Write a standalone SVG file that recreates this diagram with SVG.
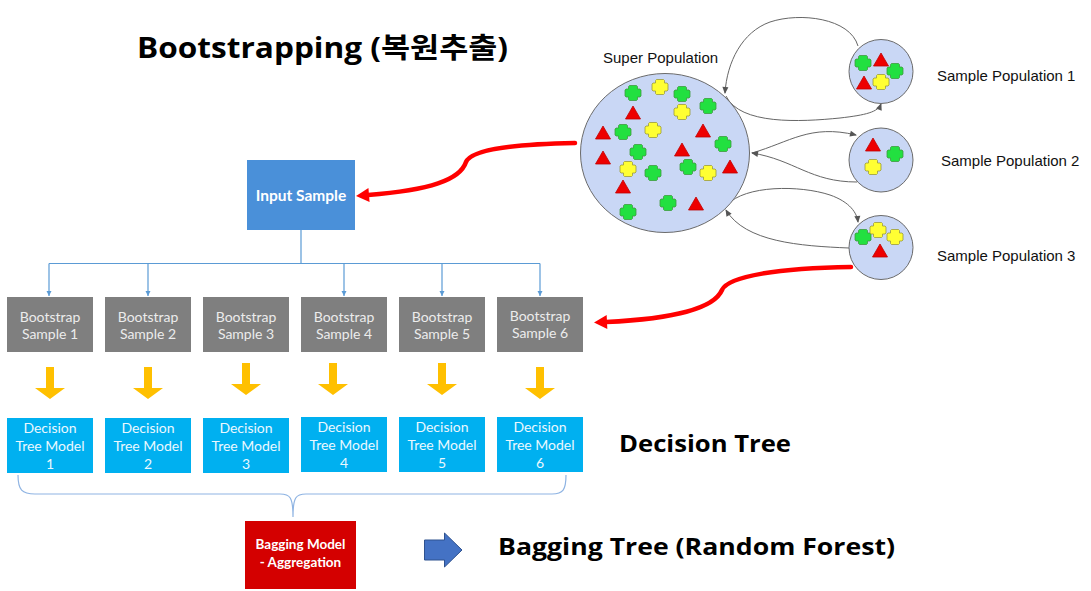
<svg xmlns="http://www.w3.org/2000/svg" width="1091" height="591" viewBox="0 0 1091 591">
<style>
.title{font-family:"Open Sans","Noto Sans CJK KR",sans-serif;font-weight:bold;fill:#000}
.pop{font-family:"Liberation Sans",Arial,sans-serif;font-size:15px;fill:#111}
.bs rect{fill:#7f7f7f}
.bs text{font-family:Lato,"Open Sans",sans-serif;font-size:14px;fill:#ececec;text-anchor:middle}
.dt rect{fill:#00b0f0}
.dt text{font-family:Lato,"Open Sans",sans-serif;font-size:14px;fill:#eaf8ff;text-anchor:middle}
.circ{fill:#c9d7f5;stroke:#6b6b6b;stroke-width:1}
.gray{fill:none;stroke:#666;stroke-width:1}
.red{fill:none;stroke:#f00;stroke-width:4.5;stroke-linecap:round}
.blue{fill:none;stroke:#5b9bd5;stroke-width:1.2}
.brace{fill:none;stroke:#8fb4e3;stroke-width:1.2}
.yarrow{fill:#ffc000}
</style>
<defs>
<path id="gc" d="M-3.5,-7.5 h7 l1,1 v2.5 h2.5 l1,1 v6 l-1,1 h-2.5 v2.5 l-1,1 h-7 l-1,-1 v-2.5 h-2.5 l-1,-1 v-6 l1,-1 h2.5 v-2.5 z" fill="#22e040" stroke="#3f9a3f" stroke-width="0.8"/>
<path id="yc" d="M-3.5,-7.5 h7 l1,1 v2.5 h2.5 l1,1 v6 l-1,1 h-2.5 v2.5 l-1,1 h-7 l-1,-1 v-2.5 h-2.5 l-1,-1 v-6 l1,-1 h2.5 v-2.5 z" fill="#ffff33" stroke="#9a9a3a" stroke-width="0.8"/>
<path id="rt" d="M0,-7 L7.5,6 L-7.5,6 z" fill="#ee0000" stroke="#c00000" stroke-width="0.8"/>
<marker id="ra" markerUnits="userSpaceOnUse" markerWidth="20" markerHeight="20" refX="0" refY="0" orient="auto" overflow="visible"><path d="M-1,-7 L12,0 L-1,7 z" fill="#f00"/></marker>
<marker id="ga" markerUnits="userSpaceOnUse" markerWidth="10" markerHeight="10" refX="6" refY="0" orient="auto" overflow="visible"><path d="M0,-3 L7,0 L0,3 z" fill="#555"/></marker>
<marker id="ba" markerUnits="userSpaceOnUse" markerWidth="10" markerHeight="10" refX="5" refY="0" orient="auto" overflow="visible"><path d="M0,-2.5 L5,0 L0,2.5 z" fill="#5b9bd5"/></marker>
</defs>
<rect width="1091" height="591" fill="#fff"/>

<text class="title" x="137" y="58" font-size="28" textLength="371" lengthAdjust="spacingAndGlyphs">Bootstrapping (복원추출)</text>
<text class="title" x="619" y="452" font-size="23" textLength="172" lengthAdjust="spacingAndGlyphs">Decision Tree</text>
<text class="title" x="498" y="555" font-size="23" textLength="397" lengthAdjust="spacingAndGlyphs">Bagging Tree (Random Forest)</text>

<g id="connectors">
<path class="blue" d="M301,230 V263.5 M49,263.5 H540"/>
<path class="blue" d="M49,263.5 V296" marker-end="url(#ba)"/>
<path class="blue" d="M148,263.5 V296" marker-end="url(#ba)"/>
<path class="blue" d="M344,263.5 V296" marker-end="url(#ba)"/>
<path class="blue" d="M442,263.5 V296" marker-end="url(#ba)"/>
<path class="blue" d="M540,263.5 V296" marker-end="url(#ba)"/>
<path class="brace" d="M18,475 C18,490 22,494 35,494 L280,494 C290,494 293,497 293,517 C293,497 296,494 306,494 L552,494 C563,494 566,490 566,475"/>
<path class="red" d="M575,143 C522,144 472,148 466,162 C460,180 430,190 368,195" marker-end="url(#ra)"/>
<path class="red" d="M851,267 C780,268 728,276 722,290 C716,304 690,318 606,322" marker-end="url(#ra)"/>
<path class="gray" d="M858,46 C850,18 800,12 770,22 C742,32 727,62 725,93" marker-end="url(#ga)"/>
<path class="gray" d="M726,96 C740,125 800,122 840,118 C866,115 878,112 881,104" marker-end="url(#ga)"/>
<path class="gray" d="M752,153 C790,142 810,124 856,135" marker-end="url(#ga)"/>
<path class="gray" d="M857,182 C810,182 795,160 752,153" marker-end="url(#ga)"/>
<path class="gray" d="M727,205 C745,185 800,185 830,195 C850,202 857,213 858,222" marker-end="url(#ga)"/>
<path class="gray" d="M849,248 C800,246 745,242 726,210" marker-end="url(#ga)"/>
</g>

<g id="super-population">
<ellipse class="circ" cx="665" cy="153" rx="84.5" ry="79.5"/>
<use href="#gc" x="633" y="93"/><use href="#gc" x="682" y="94"/><use href="#gc" x="708" y="106"/>
<use href="#gc" x="623" y="132"/><use href="#gc" x="723" y="144"/><use href="#gc" x="638" y="152"/>
<use href="#gc" x="688" y="167"/><use href="#gc" x="653" y="173"/><use href="#gc" x="668" y="203"/>
<use href="#gc" x="628" y="212"/>
<use href="#yc" x="660" y="87"/><use href="#yc" x="682" y="112"/><use href="#yc" x="653" y="130"/>
<use href="#yc" x="628" y="169"/><use href="#yc" x="708" y="173"/>
<use href="#rt" x="633" y="113"/><use href="#rt" x="603" y="133"/><use href="#rt" x="703" y="131"/>
<use href="#rt" x="682" y="150"/><use href="#rt" x="603" y="158"/><use href="#rt" x="730" y="167"/>
<use href="#rt" x="623" y="187"/><use href="#rt" x="696" y="204"/>
<text class="pop" x="603" y="63">Super Population</text>
</g>

<g id="sample-population-1">
<circle class="circ" cx="881" cy="71.5" r="32"/>
<use href="#gc" x="863" y="63"/><use href="#rt" x="881" y="60"/><use href="#gc" x="895" y="71"/>
<use href="#rt" x="864" y="83"/><use href="#yc" x="881" y="82"/>
<text class="pop" x="937" y="81">Sample Population 1</text>
</g>
<g id="sample-population-2">
<circle class="circ" cx="881" cy="160" r="32"/>
<use href="#rt" x="873" y="145"/><use href="#gc" x="895" y="154"/><use href="#yc" x="873" y="167"/>
<text class="pop" x="941" y="166">Sample Population 2</text>
</g>
<g id="sample-population-3">
<circle class="circ" cx="881" cy="247.5" r="32"/>
<use href="#gc" x="863" y="237"/><use href="#yc" x="878" y="230"/><use href="#yc" x="895" y="237"/>
<use href="#rt" x="880" y="251"/>
<text class="pop" x="937" y="261">Sample Population 3</text>
</g>

<g id="input-sample">
<rect x="247" y="160" width="108" height="70" fill="#4a90d9"/>
<text x="301" y="201" font-family="Lato,'Open Sans',sans-serif" font-weight="bold" font-size="15.5" fill="#fff" text-anchor="middle">Input Sample</text>
</g>

<g id="bootstrap-1" class="bs"><rect x="7" y="297" width="86" height="55"/><text x="50" y="322">Bootstrap</text><text x="50" y="339">Sample 1</text></g>
<g id="bootstrap-2" class="bs"><rect x="105" y="297" width="86" height="55"/><text x="148" y="322">Bootstrap</text><text x="148" y="339">Sample 2</text></g>
<g id="bootstrap-3" class="bs"><rect x="203" y="297" width="86" height="55"/><text x="246" y="322">Bootstrap</text><text x="246" y="339">Sample 3</text></g>
<g id="bootstrap-4" class="bs"><rect x="301" y="297" width="86" height="55"/><text x="344" y="322">Bootstrap</text><text x="344" y="339">Sample 4</text></g>
<g id="bootstrap-5" class="bs"><rect x="399" y="297" width="86" height="55"/><text x="442" y="322">Bootstrap</text><text x="442" y="339">Sample 5</text></g>
<g id="bootstrap-6" class="bs"><rect x="497" y="297" width="86" height="55"/><text x="540" y="321">Bootstrap</text><text x="540" y="338">Sample 6</text></g>

<g id="yellow-arrows" class="yarrow">
<path d="M46,367 h8 v21 h11 l-15,11 l-15,-11 h11 z"/>
<path d="M144,367 h8 v21 h11 l-15,11 l-15,-11 h11 z"/>
<path d="M242,363 h8 v21 h11 l-15,11 l-15,-11 h11 z"/>
<path d="M329,363 h8 v21 h11 l-15,11 l-15,-11 h11 z"/>
<path d="M438,363 h8 v21 h11 l-15,11 l-15,-11 h11 z"/>
<path d="M536,367 h8 v21 h11 l-15,11 l-15,-11 h11 z"/>
</g>

<g id="decision-1" class="dt"><rect x="7" y="418" width="86" height="55"/><text x="50" y="433">Decision</text><text x="50" y="451">Tree Model</text><text x="50" y="469">1</text></g>
<g id="decision-2" class="dt"><rect x="105" y="418" width="86" height="55"/><text x="148" y="433">Decision</text><text x="148" y="451">Tree Model</text><text x="148" y="469">2</text></g>
<g id="decision-3" class="dt"><rect x="203" y="418" width="86" height="55"/><text x="246" y="433">Decision</text><text x="246" y="451">Tree Model</text><text x="246" y="469">3</text></g>
<g id="decision-4" class="dt"><rect x="301" y="417" width="86" height="55"/><text x="344" y="432">Decision</text><text x="344" y="450">Tree Model</text><text x="344" y="468">4</text></g>
<g id="decision-5" class="dt"><rect x="399" y="417" width="86" height="55"/><text x="442" y="432">Decision</text><text x="442" y="450">Tree Model</text><text x="442" y="468">5</text></g>
<g id="decision-6" class="dt"><rect x="497" y="417" width="86" height="55"/><text x="540" y="432">Decision</text><text x="540" y="450">Tree Model</text><text x="540" y="468">6</text></g>

<g id="bagging-model">
<rect x="245" y="521" width="111" height="68" fill="#d40000"/>
<text x="300.5" y="549" font-family="Lato,'Open Sans',sans-serif" font-weight="bold" font-size="13.5" fill="#fff" text-anchor="middle">Bagging Model</text>
<text x="300.5" y="567" font-family="Lato,'Open Sans',sans-serif" font-weight="bold" font-size="13.5" fill="#fff" text-anchor="middle">- Aggregation</text>
</g>

<g id="blue-arrow">
<path d="M424.5,540 h20 v-7 l17.5,17 l-17.5,17 v-7 h-20 z" fill="#4472c4" stroke="#2f528f" stroke-width="1"/>
</g>
</svg>
